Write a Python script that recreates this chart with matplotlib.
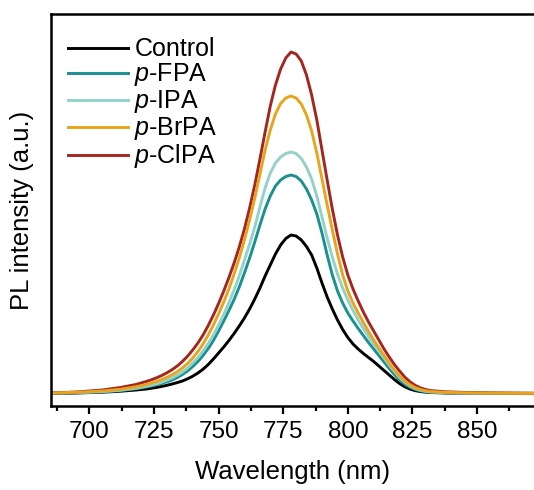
import matplotlib
matplotlib.use("Agg")
import matplotlib.pyplot as plt
from matplotlib.ticker import MultipleLocator

plt.rcParams['font.family'] = ['Liberation Sans', 'DejaVu Sans']
plt.rcParams['mathtext.fontset'] = 'custom'
plt.rcParams['mathtext.rm'] = 'Liberation Sans'
plt.rcParams['mathtext.it'] = 'Liberation Sans:italic'

# wavelength grid (nm): sparse in the tails, every 2 nm across the band
wavelength = [685, 695, 705, 712, 718] + list(range(722, 833, 2)) + [838, 846, 856, 872]

# PL intensities (a.u.)
control = [1.4, 2, 2.8, 3.8, 5,
           6, 6.8, 7.6, 8.6, 9.7, 11, 12.4, 14, 16.2, 18.8,
           22, 25.8, 30.5, 36, 42, 48, 54.5, 61.5, 69, 77,
           86, 96, 107, 119, 130, 141, 150, 156.5, 160, 159,
           155, 148.5, 140, 127, 112, 98, 86, 75, 65.5, 57.5,
           51, 46, 41.5, 37.5, 33.5, 29, 24.5, 20, 15.5, 11.5,
           8.3, 6, 4.4, 3.5, 2.9, 2.5,
           2, 1.8, 1.6, 1.4]
p_fpa = [1.8, 2.3, 3.2, 4.5, 6.3,
         8, 9, 10.2, 11.6, 13.2, 15, 17.5, 20.5, 24, 28.5,
         33.5, 39.5, 46.5, 54.5, 64, 74, 84.5, 95.5, 108, 122,
         137, 153, 170, 186, 199, 209, 215, 218.5, 220, 218.5,
         214, 206, 195, 181, 162, 140, 120, 104, 92, 82,
         74, 66.5, 59.5, 52.5, 46, 39.5, 33, 26.5, 20.5, 15,
         10.8, 7.8, 5.6, 4.2, 3.3, 2.8,
         2.2, 1.9, 1.7, 1.5]
p_ipa = [1.8, 2.4, 3.4, 4.8, 6.8,
         8.7, 9.8, 11.2, 12.8, 14.8, 17, 19.8, 23, 27, 32,
         37.5, 44, 51.5, 60, 70, 80.5, 92.5, 105, 119, 135,
         151, 168, 188, 207, 222, 232, 238, 241.5, 243, 241.5,
         236.5, 228, 216, 199, 178, 157, 138, 121, 107, 95,
         84.5, 75, 66.5, 58.5, 51, 44, 37, 30, 23.5, 17.5,
         12.7, 9.2, 6.6, 4.9, 3.8, 3.1,
         2.4, 2, 1.8, 1.6]
p_brpa = [2, 2.8, 4, 5.7, 8.2,
          10.5, 11.9, 13.5, 15.4, 17.6, 20.2, 23.3, 27, 31.5, 37,
          43.5, 51, 60, 70, 81, 93, 106, 121, 137, 155,
          175, 197, 221, 245, 265, 281, 291.5, 297, 299, 297,
          291, 280, 264, 242, 216, 190, 165, 141, 120, 104,
          92, 82, 72.5, 63.5, 55, 47, 39.5, 32, 25, 19,
          14, 10.3, 7.5, 5.6, 4.3, 3.5,
          2.7, 2.2, 1.9, 1.7]
p_clpa = [2, 3, 5, 7.5, 10.5,
          13.5, 15.2, 17.2, 19.5, 22.2, 25.3, 29, 33.5, 38.8, 45,
          52, 60, 69.5, 80, 91.5, 104, 117.5, 132, 148, 166,
          187, 210, 236, 263, 289, 310, 326, 337, 343, 341,
          334, 320, 300, 275, 245, 215, 186, 160, 138, 120,
          106, 94, 83, 73, 64, 55, 46, 38, 30.5, 24,
          18, 13.3, 9.7, 7.2, 5.5, 4.4,
          3.2, 2.5, 2.1, 1.8]

labels = ['Control', '$p$-FPA', '$p$-IPA', '$p$-BrPA', '$p$-ClPA']
colors = ['#000000', '#1a9091', '#93d2c9', '#e8a41c', '#a5261f']
series = [control, p_fpa, p_ipa, p_brpa, p_clpa]

fig = plt.figure(figsize=(5.34, 4.90), dpi=100)
ax = fig.add_axes([0.0946, 0.1714, 0.9054, 0.80])

lines = {}
# orange drawn last, it sits on top at the baseline
for i in [0, 1, 2, 4, 3]:
    ln, = ax.plot(wavelength, series[i], color=colors[i], lw=2.1,
                  solid_joinstyle='round', label=labels[i])
    lines[i] = ln

ax.set_xlim(685, 872)
ax.set_ylim(-11, 381)
ax.set_yticks([])
ax.xaxis.set_major_locator(MultipleLocator(25))
ax.xaxis.set_minor_locator(MultipleLocator(12.5))
ax.tick_params(axis='x', which='major', direction='out', length=6, width=1.6,
               labelsize=17.5, pad=5)
ax.tick_params(axis='x', which='minor', direction='out', length=3.5, width=1.6)
for s in ['left', 'bottom', 'top']:
    ax.spines[s].set_linewidth(1.8)
ax.spines['right'].set_visible(False)

ax.set_xlabel('Wavelength (nm)', fontsize=18.5, labelpad=12)
ax.set_ylabel('PL intensity (a.u.)', fontsize=18.5, labelpad=12)

ax.legend([lines[i] for i in range(5)], labels, loc='upper left',
          bbox_to_anchor=(0.0, 0.985), frameon=False, fontsize=18,
          handlelength=2.4, handletextpad=0.25, labelspacing=0.0,
          borderaxespad=0.3)

fig.savefig('out.png', dpi=100)
